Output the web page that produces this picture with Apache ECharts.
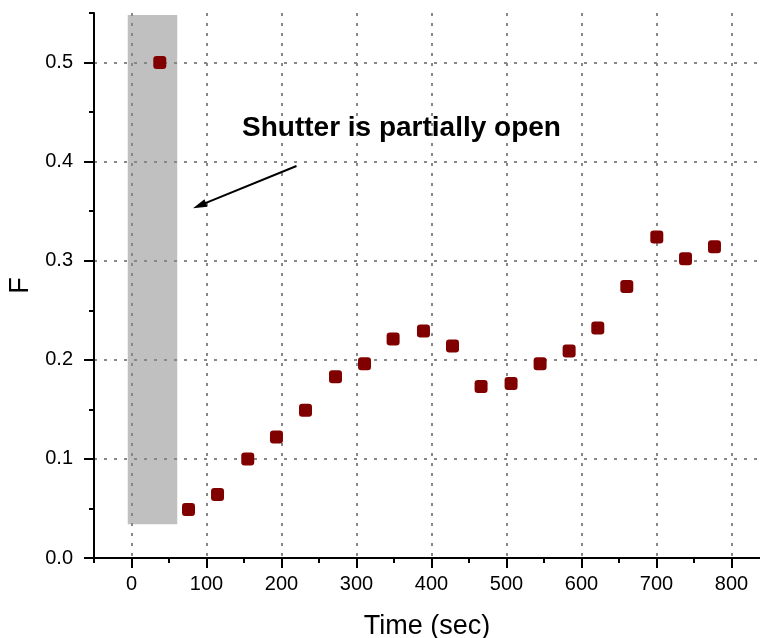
<!DOCTYPE html>
<html>
<head>
<meta charset="utf-8">
<script src="https://cdn.jsdelivr.net/npm/echarts@6/dist/echarts.min.js"></script>
<style>
  html, body { margin: 0; padding: 0; background: #fff; }
  #chart { width: 760px; height: 638px; }
</style>
</head>
<body>
<div id="chart"></div>
<script>
// Measured signal F against elapsed time
const timeSec = [37.7, 76, 114.7, 155, 193.3, 232, 272, 310.7, 348.8, 389.3,
                 428, 466.1, 506.1, 544.8, 583.5, 621.7, 660.4, 700.4, 738.7, 777.3];
const fValues = [0.500, 0.049, 0.064, 0.100, 0.122, 0.149, 0.183, 0.196, 0.221, 0.229,
                 0.214, 0.173, 0.176, 0.196, 0.209, 0.232, 0.274, 0.324, 0.302, 0.314];

// Tick positions
const xMajorTicks = [0, 100, 200, 300, 400, 500, 600, 700, 800];
const xMinorTicks = [-50, 50, 150, 250, 350, 450, 550, 650, 750];
const yMajorTicks = [0, 0.1, 0.2, 0.3, 0.4, 0.5];
const yMinorTicks = [0.05, 0.15, 0.25, 0.35, 0.45, 0.55];

// Shaded interval while the shutter is partially open: [xStart, xEnd, yLow, yHigh]
const shutterBox = [[-5, 61, 0.034, 0.548]];
// Annotation arrow: [xFrom, yFrom, xTo, yTo]
const shutterArrow = [[220, 0.3956, 82, 0.353]];
// Annotation text and anchor
const shutterNote = 'Shutter is partially open';
const shutterNoteAt = [[360, 0.434]];

const FONT = '"Liberation Sans", Arial, sans-serif';

const chart = echarts.init(document.getElementById('chart'), null, { renderer: 'canvas' });

// secondary axes only carry the short (minor) ticks
const minorAxis = {
  type: 'value', z: 1,
  axisLine: { show: false, onZero: false },
  axisLabel: { show: false },
  splitLine: { show: false },
  minorTick: { show: false }
};

chart.setOption({
  animation: false,
  backgroundColor: '#ffffff',
  grid: { left: 94, top: 13, right: 0, bottom: 80, containLabel: false, outerBoundsMode: 'none' },
  xAxis: [
    {
      type: 'value', min: -50, max: 838, z: 1,
      name: 'Time (sec)', nameLocation: 'middle', nameGap: 55,
      nameTextStyle: { fontFamily: FONT, fontSize: 27, color: '#000' },
      axisLine: { show: true, onZero: false, lineStyle: { color: '#000', width: 2 } },
      axisTick: { show: true, inside: false, length: 10, lineStyle: { color: '#000', width: 2 },
                  customValues: xMajorTicks },
      axisLabel: { show: true, margin: 16, fontFamily: FONT, fontSize: 20, color: '#000',
                   customValues: xMajorTicks },
      splitLine: { show: true, lineStyle: { color: '#888', width: 2, type: [3, 7] } },
      minorTick: { show: false }
    },
    Object.assign({}, minorAxis, {
      min: -50, max: 838, position: 'bottom',
      axisTick: { show: true, inside: false, length: 5, lineStyle: { color: '#000', width: 2 },
                  customValues: xMinorTicks }
    })
  ],
  yAxis: [
    {
      type: 'value', min: 0, max: 0.55, interval: 0.1, z: 1,
      name: 'F', nameLocation: 'middle', nameGap: 52, nameRotate: 90,
      nameTextStyle: { fontFamily: FONT, fontSize: 27, color: '#000' },
      axisLine: { show: true, onZero: false, lineStyle: { color: '#000', width: 2 } },
      axisTick: { show: true, inside: false, length: 10, lineStyle: { color: '#000', width: 2 },
                  customValues: yMajorTicks },
      axisLabel: { show: true, margin: 21, fontFamily: FONT, fontSize: 20, color: '#000',
                   customValues: yMajorTicks,
                   formatter: v => v.toFixed(1) },
      splitLine: { show: true, lineStyle: { color: '#888', width: 2, type: [3, 7] } },
      minorTick: { show: false }
    },
    Object.assign({}, minorAxis, {
      min: 0, max: 0.55, position: 'left',
      axisTick: { show: true, inside: false, length: 5, lineStyle: { color: '#000', width: 2 },
                  customValues: yMinorTicks }
    })
  ],
  series: [
    {
      // grey band behind the grid lines
      type: 'custom', z: 0, silent: true,
      xAxisIndex: 0, yAxisIndex: 0,
      data: shutterBox,
      renderItem: (params, api) => {
        const p0 = api.coord([api.value(0), api.value(3)]);
        const p1 = api.coord([api.value(1), api.value(2)]);
        return {
          type: 'rect',
          shape: { x: p0[0], y: p0[1], width: p1[0] - p0[0], height: p1[1] - p0[1] },
          style: { fill: '#c0c0c0' }
        };
      }
    },
    {
      type: 'scatter', z: 3,
      xAxisIndex: 0, yAxisIndex: 0,
      symbol: 'roundRect', symbolSize: 13,
      itemStyle: { color: '#800000', opacity: 1 },
      data: timeSec.map((t, i) => [t, fValues[i]])
    },
    {
      // arrow pointing at the shaded band
      type: 'custom', z: 4, silent: true,
      xAxisIndex: 0, yAxisIndex: 0,
      data: shutterArrow,
      renderItem: (params, api) => {
        const a = api.coord([api.value(0), api.value(1)]);
        const b = api.coord([api.value(2), api.value(3)]);
        const dx = b[0] - a[0], dy = b[1] - a[1];
        const len = Math.sqrt(dx * dx + dy * dy);
        const ux = dx / len, uy = dy / len;
        const headLen = 14, headHalf = 4;
        const base = [b[0] - ux * headLen, b[1] - uy * headLen];
        const left = [base[0] - uy * headHalf, base[1] + ux * headHalf];
        const right = [base[0] + uy * headHalf, base[1] - ux * headHalf];
        return {
          type: 'group',
          children: [
            { type: 'line', shape: { x1: a[0], y1: a[1], x2: base[0] + ux * 2, y2: base[1] + uy * 2 },
              style: { stroke: '#000', lineWidth: 2 } },
            { type: 'polygon', shape: { points: [b, left, right] }, style: { fill: '#000' } }
          ]
        };
      }
    },
    {
      type: 'custom', z: 4, silent: true,
      xAxisIndex: 0, yAxisIndex: 0,
      data: shutterNoteAt,
      renderItem: (params, api) => {
        const p = api.coord([api.value(0), api.value(1)]);
        return {
          type: 'text',
          x: p[0], y: p[1],
          style: { text: shutterNote, fill: '#000', font: 'bold 28px ' + FONT,
                   align: 'center', verticalAlign: 'middle' }
        };
      }
    }
  ]
});
</script>
</body>
</html>
